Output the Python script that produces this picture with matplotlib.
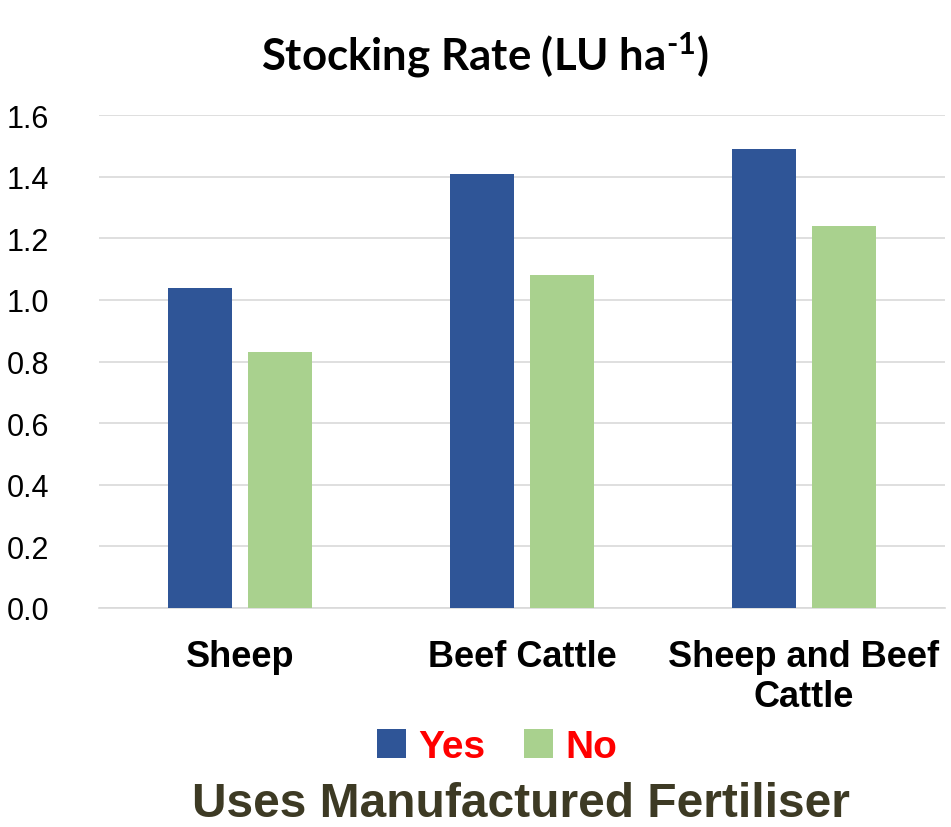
import numpy as np
import matplotlib
matplotlib.use("Agg")
import matplotlib.pyplot as plt
from matplotlib.patches import Patch

# === Dados ===
categorias = ["Sheep", "Beef Cattle", "Sheep and Beef\nCattle"]
sim = [1.04, 1.41, 1.49]
nao = [0.83, 1.08, 1.24]
series = ["Yes", "No"]
cores = ["#2F5597", "#A9D18E"]
yticks = [0.0, 0.2, 0.4, 0.6, 0.8, 1.0, 1.2, 1.4, 1.6]

arial = ["Liberation Sans", "DejaVu Sans"]
plt.rcParams["mathtext.fontset"] = "custom"
plt.rcParams["mathtext.rm"] = "Lato:bold"
plt.rcParams["mathtext.default"] = "rm"

fig = plt.figure(figsize=(9.51, 8.28), dpi=100)
ax = fig.add_axes([99 / 951, 1 - 609 / 828, (945 - 99) / 951, (609 - 116) / 828])

x = np.arange(len(categorias))
largura = 0.227
ax.bar(x - 0.142, sim, largura, color=cores[0], zorder=3)
ax.bar(x + 0.142, nao, largura, color=cores[1], zorder=3)

ax.set_xlim(-0.5, 2.5)
ax.set_ylim(0, 1.6)
ax.set_yticks(yticks)
ax.set_yticklabels([f"{v:.1f}" for v in yticks], family=arial, fontsize=22)
ax.set_xticks(x)
ax.set_xticklabels(categorias, family=arial, fontsize=26, fontweight="bold",
                   linespacing=1.2)
ax.tick_params(axis="y", length=0, pad=36)
ax.tick_params(axis="x", length=0, pad=22)
ax.grid(axis="y", color="#D9D9D9", linewidth=1.2, zorder=0)
for s in ["top", "right", "left"]:
    ax.spines[s].set_visible(False)
ax.spines["bottom"].set_color("#D9D9D9")
ax.spines["bottom"].set_linewidth(1.2)

fig.text(0.51, 1 - 55 / 828, "Stocking Rate (LU ha$^{\\text{-1}}$)", ha="center", va="center",
         family=["Lato", "DejaVu Sans"], fontweight="bold", fontsize=31.5)

handles = [Patch(facecolor=c) for c in cores]
leg = fig.legend(handles, series, loc="center", bbox_to_anchor=(497 / 951, 1 - 748 / 828),
                 ncol=2, frameon=False, handlelength=0.75, handleheight=0.75,
                 handletextpad=0.3, columnspacing=1.0,
                 prop={"family": arial, "weight": "bold", "size": 28})
for t in leg.get_texts():
    t.set_color("#FF0000")

fig.text(521 / 951, 1 - 805 / 828, "Uses Manufactured Fertiliser", ha="center", va="center",
         family=arial, fontweight="bold", fontsize=34.5, color="#3D3A24")

fig.savefig("out.png", dpi=100)
